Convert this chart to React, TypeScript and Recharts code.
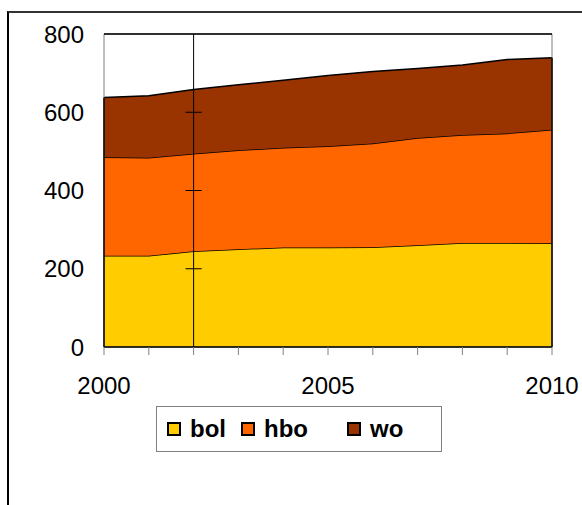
import { AreaChart, Area, XAxis, YAxis, ReferenceLine, ReferenceArea, Legend } from "recharts";

const years = [2000, 2001, 2002, 2003, 2004, 2005, 2006, 2007, 2008, 2009, 2010];
const bol = [233, 233, 245, 250, 254, 254, 255, 260, 266, 266, 265];
const hbo = [252, 251, 249, 253, 255, 259, 265, 274, 276, 280, 290];
const wo = [153, 158, 164, 167, 173, 181, 184, 178, 179, 189, 184];
const yTicks = [0, 200, 400, 600, 800];
const xLabels = [2000, 2005, 2010];

const series = [
  { key: "bol", color: "#FFCC00" },
  { key: "hbo", color: "#FF6600" },
  { key: "wo", color: "#993300" },
];

const data = years.map((year, i) => ({ year, bol: bol[i], hbo: hbo[i], wo: wo[i] }));
const firstTotal = bol[0] + hbo[0] + wo[0];
const last = years.length - 1;
const lastTotal = bol[last] + hbo[last] + wo[last];

const font = "'Liberation Sans', Arial, sans-serif";
const legendLeft = [10, 84, 190];

const renderLegend = () => (
  <div
    style={{
      position: "relative",
      width: 286,
      height: 46,
      border: "1px solid #808080",
      boxSizing: "border-box",
      fontFamily: font,
    }}
  >
    {series.map((s, i) => (
      <div
        key={s.key}
        style={{
          position: "absolute",
          left: legendLeft[i],
          top: 0,
          height: 44,
          display: "flex",
          alignItems: "center",
        }}
      >
        <span
          style={{
            width: 14,
            height: 14,
            boxSizing: "border-box",
            border: "2px solid #000",
            background: s.color,
            marginRight: 9,
          }}
        />
        <span style={{ fontSize: 24, fontWeight: "bold", color: "#000" }}>{s.key}</span>
      </div>
    ))}
  </div>
);

export default function App() {
  return (
    <div style={{ position: "absolute", left: 0, top: 0, width: 582, height: 505, background: "#fff", overflow: "hidden" }}>
      <div
        style={{
          position: "absolute",
          left: 7,
          top: 11,
          width: 700,
          height: 600,
          borderLeft: "2px solid #000",
          borderTop: "2px solid #333",
        }}
      />
      <AreaChart
        width={582}
        height={505}
        data={data}
        margin={{ top: 34, right: 30, left: 44, bottom: 62 }}
        style={{ position: "absolute", left: 0, top: 0, fontFamily: font }}
      >
        <XAxis
          dataKey="year"
          type="number"
          domain={[2000, 2010]}
          ticks={years}
          interval={0}
          tickFormatter={(v) => (xLabels.includes(v) ? String(v) : "")}
          axisLine={{ stroke: "#000", strokeWidth: 1.5 }}
          tickLine={{ stroke: "#808080" }}
          tickSize={8}
          tickMargin={22}
          height={50}
          tick={{ fill: "#000", fontSize: 24 }}
        />
        <YAxis
          domain={[0, 800]}
          ticks={yTicks}
          axisLine={false}
          tickLine={false}
          tickSize={0}
          tickMargin={20}
          width={60}
          tick={{ fill: "#000", fontSize: 24 }}
        />
        {series.map((s) => (
          <Area
            key={s.key}
            type="linear"
            dataKey={s.key}
            stackId="1"
            stroke="#000"
            strokeWidth={1.5}
            fill={s.color}
            fillOpacity={1}
            isAnimationActive={false}
          />
        ))}
        <ReferenceArea x1={2000} x2={2010} y1={0} y2={800} fill="none" stroke="#808080" strokeWidth={1} />
        <ReferenceLine y={800} stroke="#000" strokeWidth={1.5} />
        <ReferenceLine segment={[{ x: 2000, y: 0 }, { x: 2000, y: firstTotal }]} stroke="#000" strokeWidth={1.5} />
        <ReferenceLine segment={[{ x: 2010, y: 0 }, { x: 2010, y: lastTotal }]} stroke="#000" strokeWidth={1.5} />
        <ReferenceLine x={2002} stroke="#000" strokeWidth={1} />
        {yTicks.slice(1, 4).map((t) => (
          <ReferenceLine
            key={t}
            segment={[{ x: 2001.82, y: t }, { x: 2002.18, y: t }]}
            stroke="#000"
            strokeWidth={1}
          />
        ))}
        <Legend
          content={renderLegend}
          wrapperStyle={{ position: "absolute", left: 156, top: 406, width: 286, height: 46 }}
        />
      </AreaChart>
    </div>
  );
}
